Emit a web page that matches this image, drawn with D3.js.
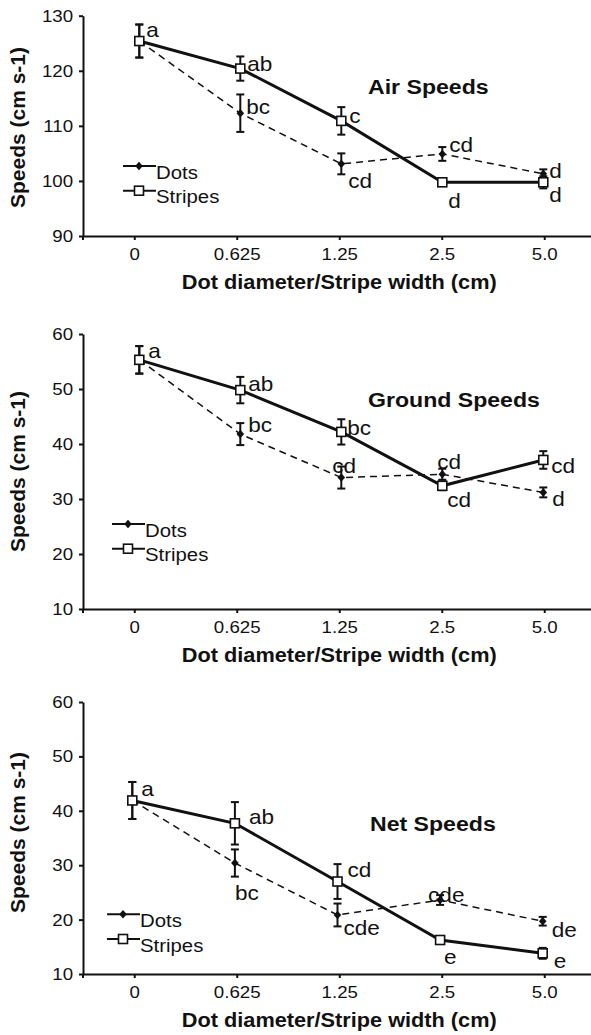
<!DOCTYPE html>
<html>
<head>
<meta charset="utf-8">
<script src="https://cdn.jsdelivr.net/npm/d3@7"></script>
<style>
body { margin: 0; background: #fff; }
svg text { font-family: "Liberation Sans", Arial, Helvetica, sans-serif; fill: #111; }
</style>
</head>
<body>
<script>
// categories on the x axis (dot diameter / stripe width)
var categories = ["0", "0.625", "1.25", "2.5", "5.0"];

// Air speeds
var airDots = [125.4, 112.3, 103.1, 104.9, 101.3];
var airDotsErr = [3.0, 3.4, 1.9, 1.25, 0.8];
var airStripes = [125.4, 120.4, 110.9, 99.75, 99.75];
var airStripesErr = [3.0, 2.2, 2.5, 0.5, 1.1];
var airDotsLetters = ["", "bc", "cd", "cd", "d"];
var airStripesLetters = ["a", "ab", "c", "d", "d"];
var airTicks = [90, 100, 110, 120, 130];

// Ground speeds
var groundDots = [55.3, 41.8, 33.9, 34.5, 31.2];
var groundDotsErr = [2.5, 2.0, 2.0, 1.0, 0.9];
var groundStripes = [55.3, 49.8, 42.2, 32.4, 37.1];
var groundStripesErr = [2.5, 2.4, 2.3, 0.8, 1.6];
var groundDotsLetters = ["", "bc", "cd", "cd", "d"];
var groundStripesLetters = ["a", "ab", "bc", "cd", "cd"];
var groundTicks = [10, 20, 30, 40, 50, 60];

// Net speeds
var netDots = [41.9, 30.4, 20.85, 23.6, 19.7];
var netDotsErr = [3.4, 2.5, 2.1, 0.9, 0.8];
var netStripes = [41.9, 37.7, 27.0, 16.25, 13.8];
var netStripesErr = [3.4, 3.9, 3.2, 0.4, 1.0];
var netDotsLetters = ["", "bc", "cde", "cde", "de"];
var netStripesLetters = ["a", "ab", "cd", "e", "e"];
var netTicks = [10, 20, 30, 40, 50, 60];

var seriesNames = ["Dots", "Stripes"];
var xTitle = "Dot diameter/Stripe width (cm)";
var yTitle = "Speeds (cm s-1)";

// Layout: where each letter sits relative to its point [dx, baseline dy]
var airDotsLabelPos = [null, [6, 1], [7, 24], [7, -2], [6, 4]];
var airStripesLabelPos = [[7, -4], [7, 2], [8, 2], [6, 26], [6, 20]];
var groundDotsLabelPos = [null, [8, -2], [-9, -5], [-5, -5], [9, 14]];
var groundStripesLabelPos = [[9, -2], [8, 1], [6, 3], [5, 21], [8, 13]];
var netDotsLabelPos = [null, [0, 37], [6, 20], [-12, 2], [9, 16]];
var netStripesLabelPos = [[9, -4], [14, 1], [10, -5], [4, 24], [11, 15]];

var W = 591, H = 1035;
var sx = 1.1;   // the reference picture is a little stretched sideways
var ink = "#111";
var axisLeftX = 83;

var svg = d3.select("body").append("svg").attr("width", W).attr("height", H);

// x scale for the axis ticks (same for all three panels)
var xAxisScale = d3.scalePoint().domain(categories).range([axisLeftX, 595.5]).padding(0.5);

var panels = [
    {title: "Air Speeds", dots: airDots, dotsErr: airDotsErr, stripes: airStripes, stripesErr: airStripesErr,
     dotsLetters: airDotsLetters, stripesLetters: airStripesLetters, dotsPos: airDotsLabelPos, stripesPos: airStripesLabelPos,
     ticks: airTicks, top: 15.7, bottom: 236, markRange: [139.3, 543.3], titleAt: [368, 94], legendAt: [123, 166], yTitleY: 127.5},
    {title: "Ground Speeds", dots: groundDots, dotsErr: groundDotsErr, stripes: groundStripes, stripesErr: groundStripesErr,
     dotsLetters: groundDotsLetters, stripesLetters: groundStripesLetters, dotsPos: groundDotsLabelPos, stripesPos: groundStripesLabelPos,
     ticks: groundTicks, top: 334, bottom: 609, markRange: [139.3, 543.3], titleAt: [368, 407], legendAt: [112, 524], yTitleY: 471.5},
    {title: "Net Speeds", dots: netDots, dotsErr: netDotsErr, stripes: netStripes, stripesErr: netStripesErr,
     dotsLetters: netDotsLetters, stripesLetters: netStripesLetters, dotsPos: netDotsLabelPos, stripesPos: netStripesLabelPos,
     ticks: netTicks, top: 702, bottom: 974, markRange: [132.3, 542.7], titleAt: [370, 831], legendAt: [107, 914.3], yTitleY: 832.5}
];

//Texto com um pequeno esticamento horizontal
function addText(g, x, y, str, size, weight, anchor)
{
    return g.append("text")
        .attr("transform", "translate(" + x + "," + y + ") scale(" + sx + ",1)")
        .attr("text-anchor", anchor || "start")
        .attr("font-size", size)
        .attr("font-weight", weight || "normal")
        .text(str);
}

function diamond(g, x, y)
{
    g.append("path").attr("d", "M" + x + "," + (y - 4.3) + "L" + (x + 3.8) + "," + y + "L" + x + "," + (y + 4.3) + "L" + (x - 3.8) + "," + y + "Z")
        .attr("fill", ink);
}

function square(g, x, y)
{
    g.append("rect").attr("x", x - 4.5).attr("y", y - 4.5).attr("width", 9).attr("height", 9)
        .attr("fill", "#fff").attr("stroke", ink).attr("stroke-width", 1.6);
}

function drawPanel(p)
{
    var g = svg.append("g");
    var dom = d3.extent(p.ticks);
    var y = d3.scaleLinear().domain(dom).range([p.bottom, p.top]);
    var xm = d3.scalePoint().domain(categories).range(p.markRange);

    // y axis
    var ya = g.append("g").attr("transform", "translate(" + axisLeftX + ",0)")
        .call(d3.axisLeft(y).tickValues(p.ticks).tickSize(4).tickSizeOuter(0).tickPadding(5));
    ya.select(".domain").attr("stroke", ink).attr("stroke-width", 2);
    ya.selectAll(".tick line").attr("stroke", ink).attr("stroke-width", 2);
    ya.selectAll(".tick text").attr("font-size", 17).attr("font-family", null).attr("fill", ink)
        .attr("transform", "scale(" + sx + ",1)");

    // x axis
    var xa = g.append("g").attr("transform", "translate(0," + p.bottom + ")")
        .call(d3.axisBottom(xAxisScale).tickSize(4).tickSizeOuter(0).tickPadding(8));
    xa.select(".domain").attr("stroke", ink).attr("stroke-width", 2.2);
    xa.selectAll(".tick line").attr("stroke", ink).attr("stroke-width", 2);
    xa.selectAll(".tick text").attr("font-size", 17).attr("font-family", null).attr("fill", ink)
        .attr("transform", "scale(" + sx + ",1)");
    xa.append("line").attr("x1", axisLeftX).attr("x2", axisLeftX).attr("y1", 0).attr("y2", 4)
        .attr("stroke", ink).attr("stroke-width", 2);

    // axis titles
    addText(g, xAxisScale.range()[0] + (xAxisScale.range()[1] - xAxisScale.range()[0]) / 2, p.bottom + 53, xTitle, 19.75, "bold", "middle");
    g.append("text").attr("transform", "translate(25," + p.yTitleY + ") rotate(-90)")
        .attr("text-anchor", "middle").attr("font-size", 21).attr("font-weight", "bold").text(yTitle);

    // panel title
    addText(g, p.titleAt[0], p.titleAt[1], p.title, 21, "bold", "start");

    // lines
    var line = d3.line().x(function(d, i) { return xm(categories[i]); }).y(function(d) { return y(d); });
    g.append("path").datum(p.dots).attr("d", line).attr("fill", "none").attr("stroke", ink)
        .attr("stroke-width", 1.5).attr("stroke-dasharray", "7,5");
    g.append("path").datum(p.stripes).attr("d", line).attr("fill", "none").attr("stroke", ink)
        .attr("stroke-width", 3);

    // error bars
    var bars = [[p.dots, p.dotsErr], [p.stripes, p.stripesErr]];
    bars.forEach(function(b)
    {
        b[0].forEach(function(v, i)
        {
            var cx = xm(categories[i]);
            var y0 = y(v + b[1][i]), y1 = y(v - b[1][i]);
            g.append("line").attr("x1", cx).attr("x2", cx).attr("y1", y0).attr("y2", y1).attr("stroke", ink).attr("stroke-width", 2);
            [y0, y1].forEach(function(yy)
            {
                g.append("line").attr("x1", cx - 4).attr("x2", cx + 4).attr("y1", yy).attr("y2", yy).attr("stroke", ink).attr("stroke-width", 2);
            });
        });
    });

    // markers
    p.dots.forEach(function(v, i) { diamond(g, xm(categories[i]), y(v)); });
    p.stripes.forEach(function(v, i) { square(g, xm(categories[i]), y(v)); });

    // letters of the statistical groups
    p.dotsLetters.forEach(function(t, i)
    {
        if(t == "") return;
        addText(g, xm(categories[i]) + p.dotsPos[i][0], y(p.dots[i]) + p.dotsPos[i][1], t, 20.5);
    });
    p.stripesLetters.forEach(function(t, i)
    {
        if(t == "") return;
        addText(g, xm(categories[i]) + p.stripesPos[i][0], y(p.stripes[i]) + p.stripesPos[i][1], t, 20.5);
    });

    // legend
    var lx = p.legendAt[0], ly = p.legendAt[1];
    seriesNames.forEach(function(name, i)
    {
        var yy = ly + i * 24.7;
        g.append("line").attr("x1", lx).attr("x2", lx + 33).attr("y1", yy).attr("y2", yy).attr("stroke", ink).attr("stroke-width", 2);
        if(i == 0) diamond(g, lx + 16, yy); else square(g, lx + 16, yy);
        addText(g, lx + 33, yy + 12.5, name, 18.5);
    });
}

panels.forEach(drawPanel);
</script>
</body>
</html>
